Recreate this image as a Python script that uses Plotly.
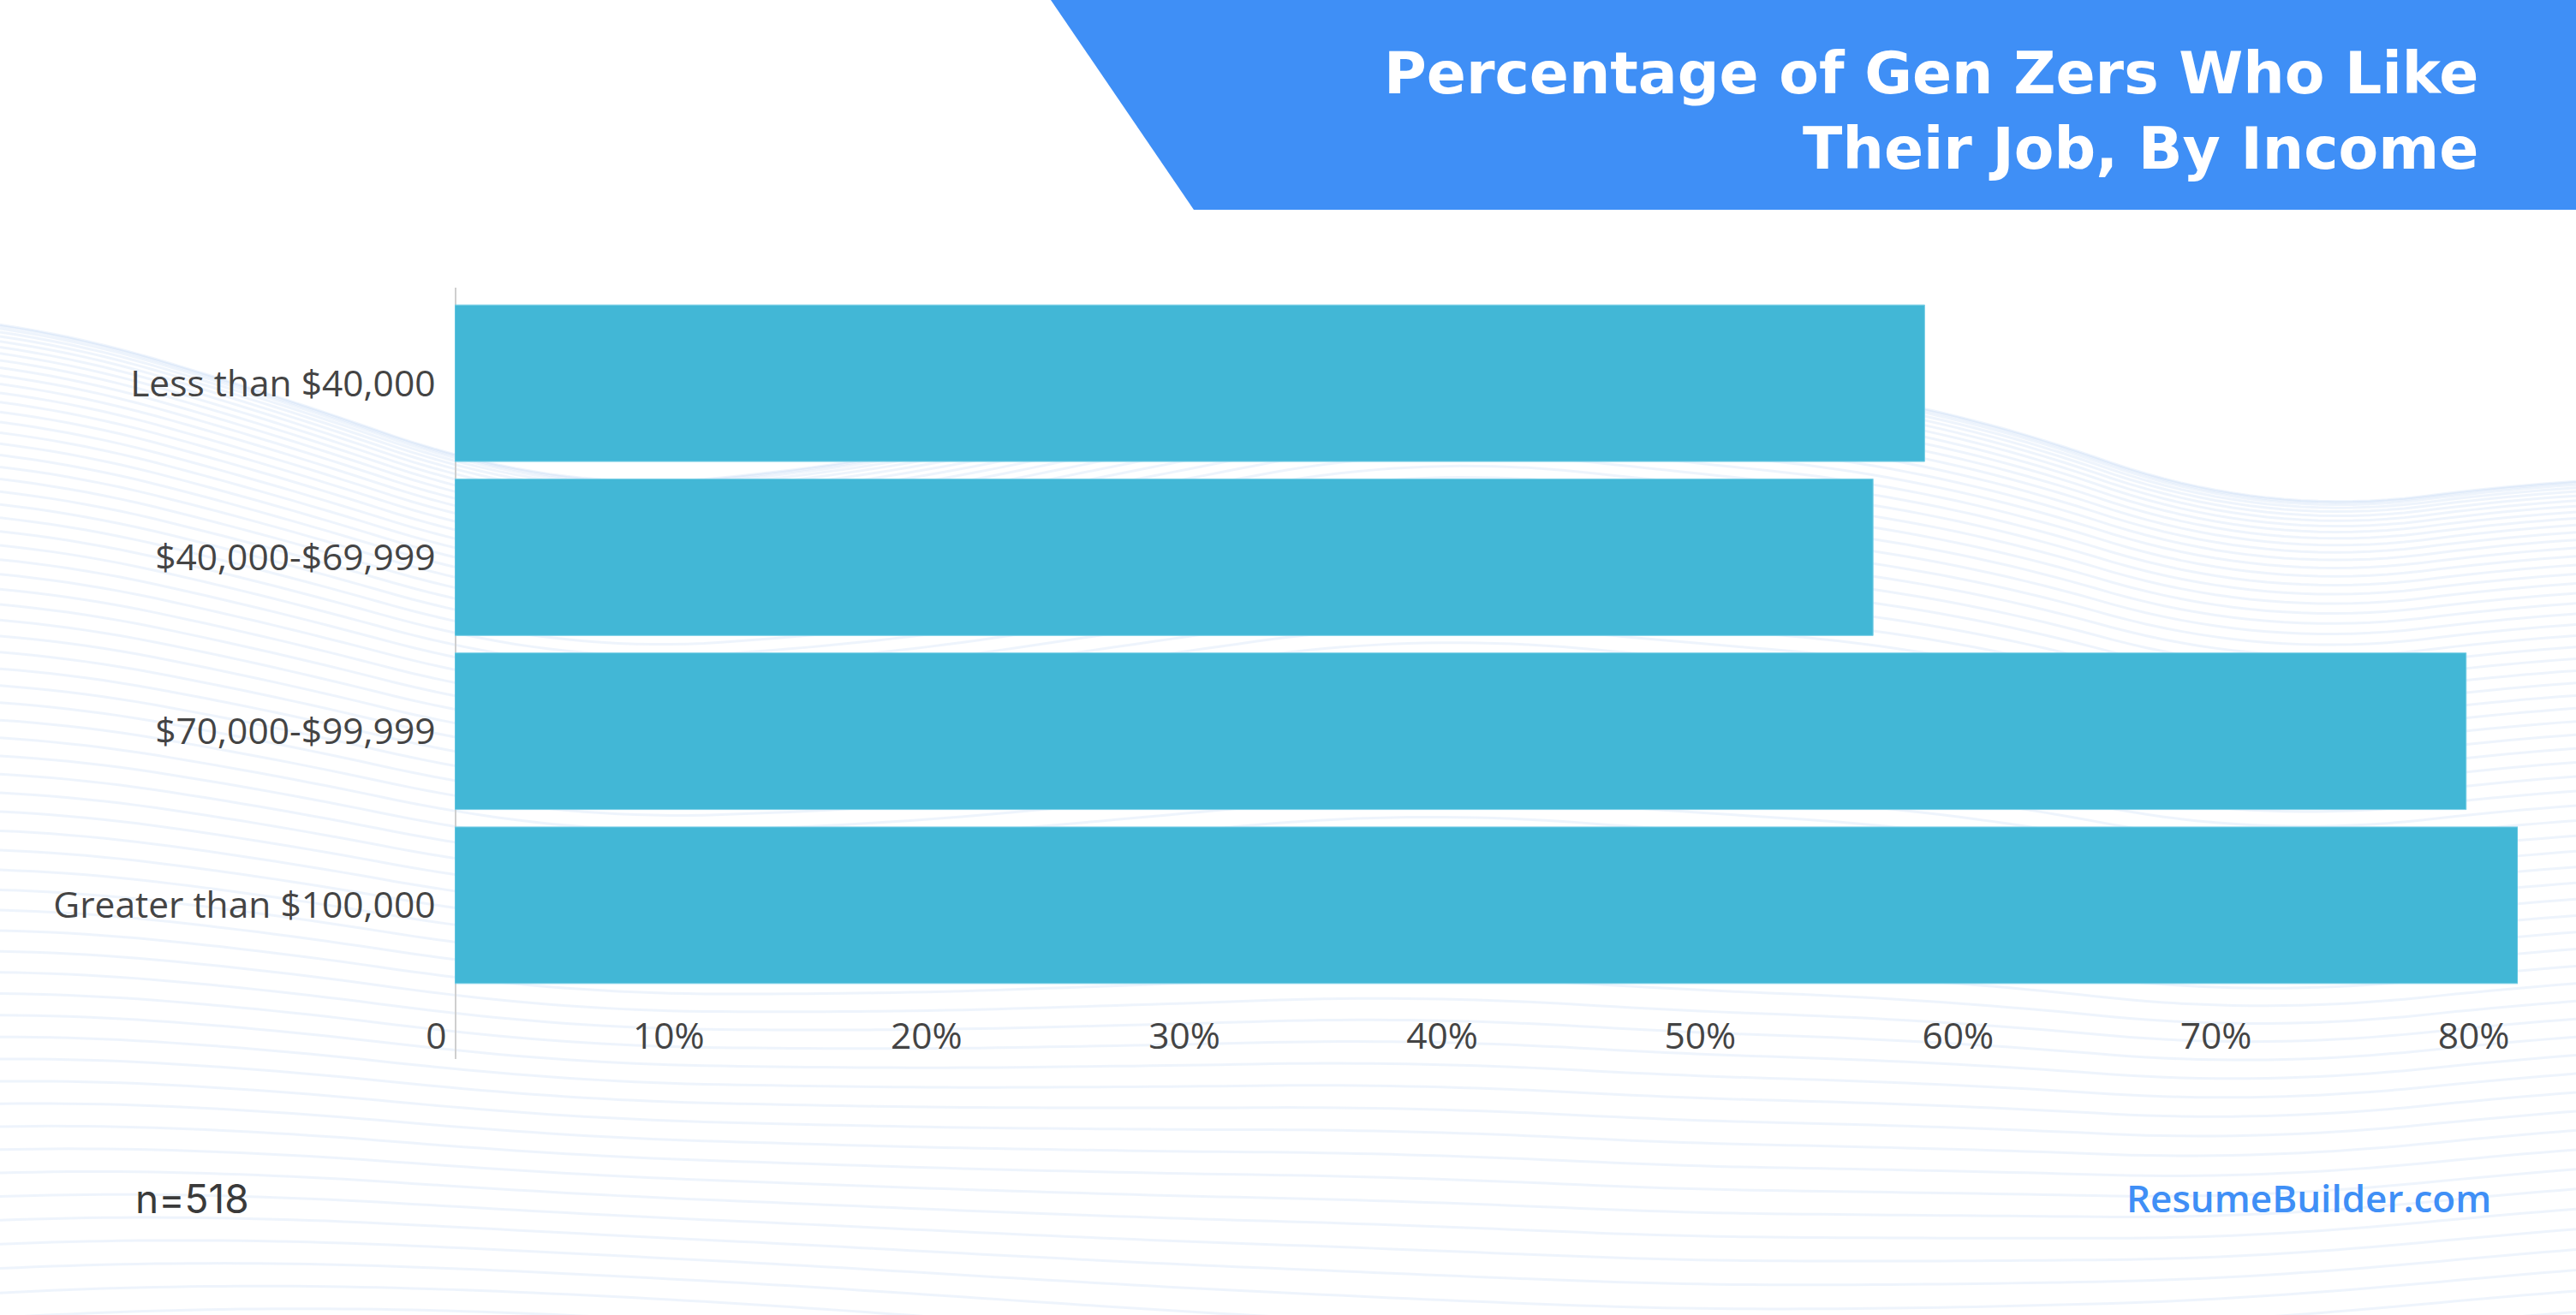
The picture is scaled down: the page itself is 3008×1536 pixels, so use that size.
import numpy as np
import plotly.graph_objects as go

# ---- data ----
categories = ["Less than $40,000", "$40,000-$69,999", "$70,000-$99,999", "Greater than $100,000"]
values = [57, 55, 78, 80]
tick_vals = [0, 10, 20, 30, 40, 50, 60, 70, 80]
tick_text = ["0", "10%", "20%", "30%", "40%", "50%", "60%", "70%", "80%"]
title_lines = ["Percentage of Gen Zers Who Like", "Their Job, By Income"]
sample_note = "n=518"
brand = "ResumeBuilder.com"

W, H = 3008, 1536


def px(x):
    return x / W


def py(y):
    return 1 - y / H


fig = go.Figure(
    go.Bar(
        y=categories,
        x=values,
        orientation="h",
        width=0.9,
        marker=dict(color="#42B7D6", line=dict(color="#7ACFE6", width=1)),
        hoverinfo="skip",
    )
)

shapes = []
# decorative background waves (pixel-space guide curve, smoothed)
xs = np.linspace(0, W, 151)
guide_x = [0, 384, 640, 1000, 1660, 2263, 2647, 3008]
guide_y = [365, 480, 575, 545, 400, 470, 604, 556]
top = np.interp(xs, guide_x, guide_y)
k = 9
pad = np.pad(top, k, mode="edge")
top = np.convolve(pad, np.ones(2 * k + 1) / (2 * k + 1), mode="valid")
bottom = 1600 - 45 * np.cos(2 * np.pi * (xs - 400) / 3200)
N = 66
for i in range(N):
    t = (i / (N - 1)) ** 1.6
    ys = (1 - t) * top + t * bottom
    path = "M " + " L ".join(f"{px(x):.5f},{py(y):.5f}" for x, y in zip(xs, ys))
    shapes.append(dict(type="path", path=path, xref="paper", yref="paper",
                       line=dict(color="rgba(60,130,225,0.085)", width=3), layer="below"))

# title banner
shapes.append(dict(type="path",
                   path=f"M {px(1227)},{py(0)} L {px(1394)},{py(245)} L {px(3008)},{py(245)} L {px(3008)},{py(0)} Z",
                   xref="paper", yref="paper", fillcolor="#3F8FF6", line=dict(width=0), layer="above"))
# vertical axis line
shapes.append(dict(type="line", x0=px(532), x1=px(532), y0=py(336), y1=py(1237),
                   xref="paper", yref="paper", line=dict(color="#CFCFCF", width=2), layer="below"))

label_font = dict(family="Open Sans", size=42.5, color="#444444")

fig.update_layout(
    width=W, height=H,
    margin=dict(l=0, r=0, t=0, b=0, autoexpand=False),
    paper_bgcolor="white",
    plot_bgcolor="rgba(0,0,0,0)",
    showlegend=False,
    shapes=shapes,
    bargap=0.1,
    xaxis=dict(
        domain=[px(531), px(2940)],
        range=[0, 80],
        tickvals=tick_vals,
        ticktext=tick_text,
        ticklabelposition="outside left",
        ticklabelshift=-9,
        ticklabelstandoff=14,
        ticks="outside", ticklen=29, tickcolor="rgba(0,0,0,0)",
        showgrid=False, zeroline=False, showline=False,
        tickfont=label_font,
        automargin=False,
        fixedrange=True,
    ),
    yaxis=dict(
        domain=[py(1159), py(346)],
        categoryorder="array", categoryarray=categories,
        range=[3.5, -0.5],
        ticks="outside", ticklen=13, tickcolor="rgba(0,0,0,0)",
        showgrid=False, zeroline=False, showline=False,
        tickfont=label_font,
        automargin=False,
        fixedrange=True,
    ),
    annotations=[
        dict(text="<br>".join(title_lines), x=px(2896), y=py(130), xref="paper", yref="paper",
             xanchor="right", yanchor="middle", align="right", showarrow=False,
             font=dict(family="DejaVu Sans", size=68, color="white", weight="bold")),
        dict(text=sample_note, x=px(156), y=py(1400), xref="paper", yref="paper",
             xanchor="left", yanchor="middle", showarrow=False,
             font=dict(family="Inter", size=46, color="#3A3A3A")),
        dict(text=brand, x=px(2911), y=py(1399), xref="paper", yref="paper",
             xanchor="right", yanchor="middle", showarrow=False,
             font=dict(family="Open Sans", size=44, color="#3F8FF6", weight=600)),
    ],
)

fig.write_html("out.html")
